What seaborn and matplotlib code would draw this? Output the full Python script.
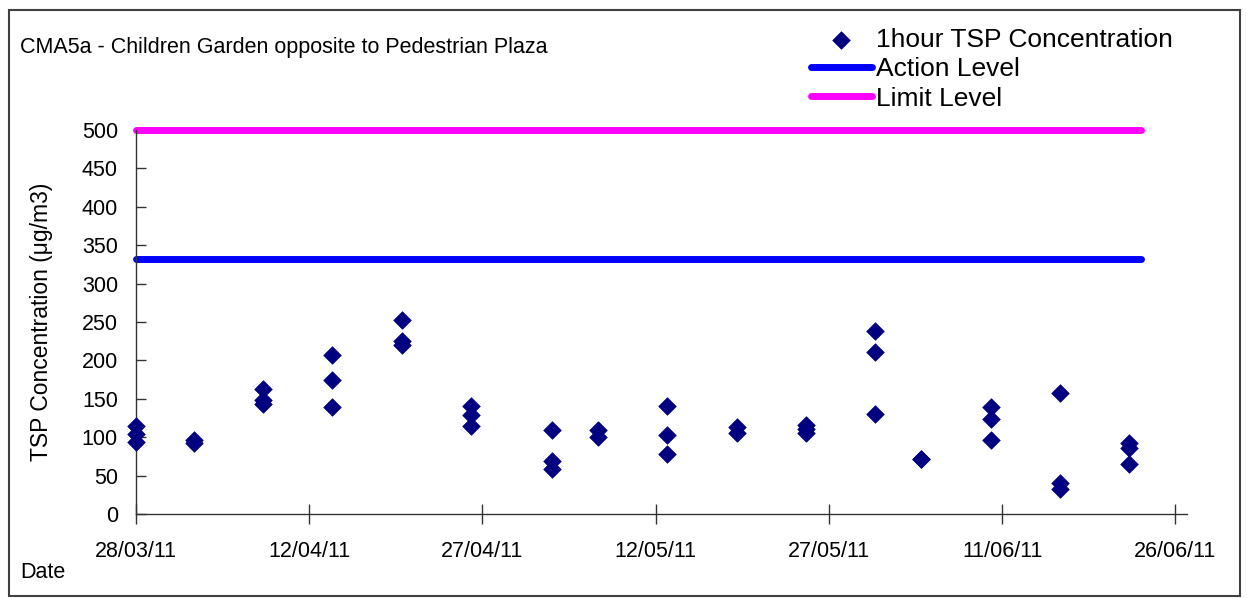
import numpy as np
import pandas as pd
import matplotlib
matplotlib.use("Agg")
import matplotlib.pyplot as plt
import matplotlib.dates as mdates
from matplotlib.patches import Rectangle
import seaborn as sns

# monitoring dates and the 1-hour TSP readings taken on each date
dates = ["2011-03-28", "2011-04-02", "2011-04-08", "2011-04-14", "2011-04-20",
         "2011-04-26", "2011-05-03", "2011-05-07", "2011-05-13", "2011-05-19",
         "2011-05-25", "2011-05-31", "2011-06-04", "2011-06-10", "2011-06-16",
         "2011-06-22"]
readings = [
    [114, 104, 94],
    [96, 93],
    [163, 148, 143],
    [207, 175, 139],
    [253, 225, 220],
    [140, 129, 115],
    [109, 69, 58],
    [110, 100],
    [140, 103, 78],
    [113, 105],
    [116, 111, 106],
    [238, 211, 130],
    [72, 71],
    [139, 124, 97],
    [157, 41, 33],
    [93, 86, 65],
]

level_dates = ["2011-03-28", "2011-06-23"]
action_level = [332, 332]
limit_level = [500, 500]

tick_dates = ["2011-03-28", "2011-04-12", "2011-04-27", "2011-05-12",
              "2011-05-27", "2011-06-11", "2011-06-26"]

# long table for the scatter
rows = []
for d, vals in zip(dates, readings):
    for v in vals:
        rows.append({"date": pd.Timestamp(d), "tsp": v})
df = pd.DataFrame(rows)

lv = pd.DataFrame({"date": pd.to_datetime(level_dates),
                   "action": action_level, "limit": limit_level})

sns.set_style("white")
plt.rcParams["font.family"] = ["Liberation Sans", "DejaVu Sans"]
plt.rcParams["text.color"] = "black"
plt.rcParams["xtick.color"] = "black"
plt.rcParams["ytick.color"] = "black"

fig = plt.figure(figsize=(12.47, 5.99), dpi=100)
ax = fig.add_axes([136 / 1247, 1 - 514 / 599, (1187 - 136) / 1247, (514 - 130) / 599])

sns.lineplot(data=lv, x="date", y="limit", ax=ax, color="#FF00FF", lw=5,
             solid_capstyle="round", clip_on=False, label="Limit Level", zorder=2)
sns.lineplot(data=lv, x="date", y="action", ax=ax, color="#0000FF", lw=5,
             solid_capstyle="round", clip_on=False, label="Action Level", zorder=2)
sns.scatterplot(data=df, x="date", y="tsp", ax=ax, marker="D", s=80,
                color="#000080", edgecolor="#000080", linewidth=0.5,
                label="1hour TSP Concentration", zorder=3, clip_on=False)

ax.set_ylim(0, 500)
ax.set_xlim(pd.Timestamp("2011-03-28"), pd.Timestamp("2011-06-27"))
ax.set_yticks(np.arange(0, 501, 50))
ax.set_xticks(pd.to_datetime(tick_dates))
ax.xaxis.set_major_formatter(mdates.DateFormatter("%d/%m/%y"))
ax.tick_params(axis="y", left=True, direction="in", length=7, width=1,
               color="#333333", labelsize=15.5, pad=13)
ax.tick_params(axis="x", bottom=True, direction="inout", length=15, width=1,
               color="#333333", labelsize=15.5, pad=12)
ax.set_xlabel("")
ax.set_ylabel("")
for s in ["top", "right"]:
    ax.spines[s].set_visible(False)
for s in ["left", "bottom"]:
    ax.spines[s].set_color("#333333")
    ax.spines[s].set_linewidth(1)

# legend in the order of the original
h, l = ax.get_legend_handles_labels()
order = [l.index("1hour TSP Concentration"), l.index("Action Level"), l.index("Limit Level")]
ax.legend_.remove()
fig.legend([h[i] for i in order], [l[i] for i in order], loc="upper left",
           bbox_to_anchor=(811 / 1247, 1 - 28 / 599), frameon=False, fontsize=19,
           handlelength=2.3, handletextpad=0.15, labelspacing=0.2, borderpad=0,
           borderaxespad=0)

fig.text(20 / 1247, 1 - 48 / 599, "CMA5a - Children Garden opposite to Pedestrian Plaza",
         fontsize=15.5, va="center", ha="left")
fig.text(42 / 1247, 1 - 322 / 599, "TSP Concentration (\u03bcg/m3)", fontsize=16.5,
         rotation=90, va="center", ha="center")
fig.text(20 / 1247, 1 - 572 / 599, "Date", fontsize=15.5, va="center", ha="left")

fig.patches.append(Rectangle((9 / 1247, 3 / 599), 1231 / 1247, 586 / 599,
                             transform=fig.transFigure, fill=False,
                             edgecolor="#404040", lw=1.5))

fig.savefig("out.png", dpi=100)
